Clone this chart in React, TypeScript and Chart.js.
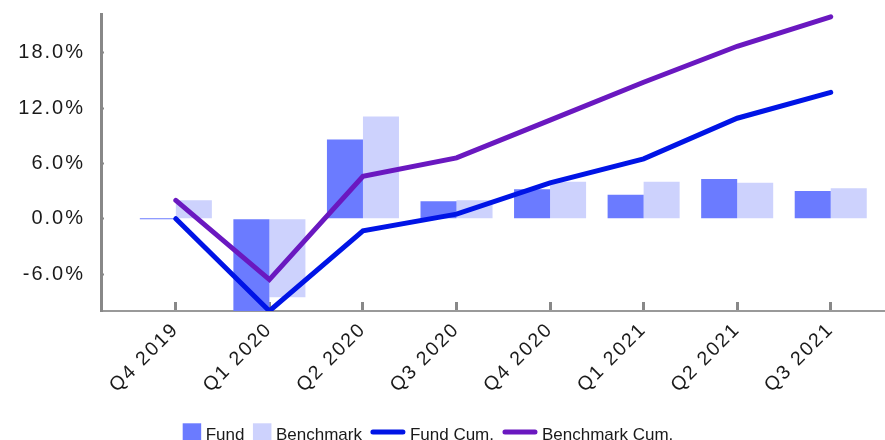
import React, { useEffect, useRef } from 'react';
import { Chart, registerables } from 'chart.js';

Chart.register(...registerables);

// ---- data ----
const QUARTERS = ['Q4 2019', 'Q1 2020', 'Q2 2020', 'Q3 2020', 'Q4 2020', 'Q1 2021', 'Q2 2021', 'Q3 2021'];
const FUND = [0, -10.0, 8.6, 1.9, 3.2, 2.6, 4.3, 3.0];
const BENCHMARK = [2.0, -8.5, 11.1, 2.0, 4.0, 4.0, 3.9, 3.3];
const FUND_CUM = [0, -10.0, -1.3, 0.5, 3.9, 6.5, 10.9, 13.7];
const BENCHMARK_CUM = [2.0, -6.6, 4.6, 6.6, 10.7, 14.8, 18.7, 21.9];
const Y_TICKS = [-6, 0, 6, 12, 18];
const Y_MIN = -10;
const Y_MAX = 22.2;

// ---- styles ----
const FONT = '"Liberation Sans", Arial, sans-serif';
const TEXT = '#1a1a1a';
const C_FUND = '#6b7bff';
const C_BENCH = '#cdd2fd';
const C_FUND_CUM = '#0014e6';
const C_BENCH_CUM = '#6a18c0';

const spacingPlugin = {
  id: 'spacing',
  beforeDraw(chart: any) {
    (chart.ctx as any).letterSpacing = '2px';
  },
};

const legendPlugin = {
  id: 'customLegend',
  afterDraw(chart: any) {
    const ctx = chart.ctx as CanvasRenderingContext2D;
    ctx.save();
    (ctx as any).letterSpacing = '0px';
    ctx.font = `17px ${FONT}`;
    const items = chart.data.datasets.map((d: any) => ({
      label: d.label,
      kind: d.type === 'line' ? 'line' : 'box',
      color: d.type === 'line' ? d.borderColor : d.backgroundColor,
    }));
    const mw = (k: string) => (k === 'line' ? 35 : 18.5);
    const gapText = 4.5;
    const gapItem = 8.5;
    const widths = items.map((it: any) => mw(it.kind) + gapText + ctx.measureText(it.label).width);
    const total = widths.reduce((a: number, b: number) => a + b, 0) + gapItem * (items.length - 1);
    let x = chart.width / 2 - 14.5 - total / 2;
    const cy = 432;
    items.forEach((it: any, i: number) => {
      const w = mw(it.kind);
      if (it.kind === 'box') {
        ctx.fillStyle = it.color;
        ctx.fillRect(x, 423.3, 18.5, 18.5);
      } else {
        ctx.strokeStyle = it.color;
        ctx.lineWidth = 5;
        ctx.lineCap = 'round';
        ctx.beginPath();
        ctx.moveTo(x + 2.5, cy);
        ctx.lineTo(x + w - 2.5, cy);
        ctx.stroke();
      }
      ctx.fillStyle = TEXT;
      ctx.textBaseline = 'alphabetic';
      ctx.textAlign = 'left';
      ctx.fillText(it.label, x + w + gapText, 439.5);
      x += widths[i] + gapItem;
    });
    ctx.restore();
  },
};

export default function App() {
  const ref = useRef<HTMLCanvasElement | null>(null);
  useEffect(() => {
    if (!ref.current) return;
    const toXY = (arr: number[]) => arr.map((v, i) => ({ x: i, y: v }));
    const chart = new Chart(ref.current, {
      type: 'bar',
      data: {
        datasets: [
          {
            type: 'bar',
            label: 'Fund',
            data: toXY(FUND),
            backgroundColor: C_FUND,
            borderWidth: 0,
            barPercentage: 1,
            categoryPercentage: 0.77,
            minBarLength: 1,
            order: 2,
          } as any,
          {
            type: 'bar',
            label: 'Benchmark',
            data: toXY(BENCHMARK),
            backgroundColor: C_BENCH,
            borderWidth: 0,
            barPercentage: 1,
            categoryPercentage: 0.77,
            order: 2,
          } as any,
          {
            type: 'line',
            label: 'Fund Cum.',
            data: toXY(FUND_CUM),
            borderColor: C_FUND_CUM,
            backgroundColor: C_FUND_CUM,
            borderWidth: 5,
            pointRadius: 0,
            borderCapStyle: 'round',
            borderJoinStyle: 'miter',
            tension: 0,
            order: 1,
          } as any,
          {
            type: 'line',
            label: 'Benchmark Cum.',
            data: toXY(BENCHMARK_CUM),
            borderColor: C_BENCH_CUM,
            backgroundColor: C_BENCH_CUM,
            borderWidth: 5,
            pointRadius: 0,
            borderCapStyle: 'round',
            borderJoinStyle: 'miter',
            tension: 0,
            order: 1,
          } as any,
        ],
      },
      options: {
        animation: false,
        responsive: true,
        maintainAspectRatio: false,
        layout: { padding: { top: 14, left: 0, right: 0, bottom: 0 } },
        plugins: {
          legend: { display: false },
          tooltip: { enabled: false },
        },
        scales: {
          x: {
            type: 'linear',
            offset: false,
            min: -0.8,
            max: 7.58,
            afterBuildTicks: (s: any) => {
              s.ticks = QUARTERS.map((_, i) => ({ value: i }));
            },
            afterFit: (s: any) => {
              s.height = 129;
              s.paddingLeft = 0;
              s.paddingRight = 0;
              s.paddingTop = 0;
              s.paddingBottom = 0;
            },
            grid: {
              offset: false,
              drawOnChartArea: false,
              drawTicks: true,
              tickLength: -9,
              tickColor: '#888888',
              tickWidth: 3,
            },
            border: { display: true, color: '#999999', width: 2 },
            ticks: {
              autoSkip: false,
              minRotation: 45,
              maxRotation: 45,
              padding: 16,
              color: TEXT,
              font: { family: FONT, size: 19.5 },
              callback: (v: any) => QUARTERS[v] ?? '',
            },
          },
          y: {
            type: 'linear',
            min: Y_MIN,
            max: Y_MAX,
            afterBuildTicks: (s: any) => {
              s.ticks = Y_TICKS.map((v) => ({ value: v }));
            },
            afterFit: (s: any) => {
              s.width = 101;
              s.paddingTop = 0;
              s.paddingBottom = 0;
              s.paddingLeft = 0;
              s.paddingRight = 0;
            },
            grid: {
              drawOnChartArea: false,
              drawTicks: true,
              tickLength: -3,
              tickColor: '#888888',
              tickWidth: 2,
            },
            border: { display: true, color: '#888888', width: 3 },
            ticks: {
              padding: 19,
              color: TEXT,
              font: { family: FONT, size: 20 },
              callback: (v: any) => `${Number(v).toFixed(1)}%`,
            },
          },
        },
      },
      plugins: [spacingPlugin, legendPlugin],
    });
    return () => chart.destroy();
  }, []);
  return (
    <div style={{ position: 'fixed', left: 0, top: 0, width: 885, height: 440 }}>
      <canvas ref={ref} />
    </div>
  );
}
